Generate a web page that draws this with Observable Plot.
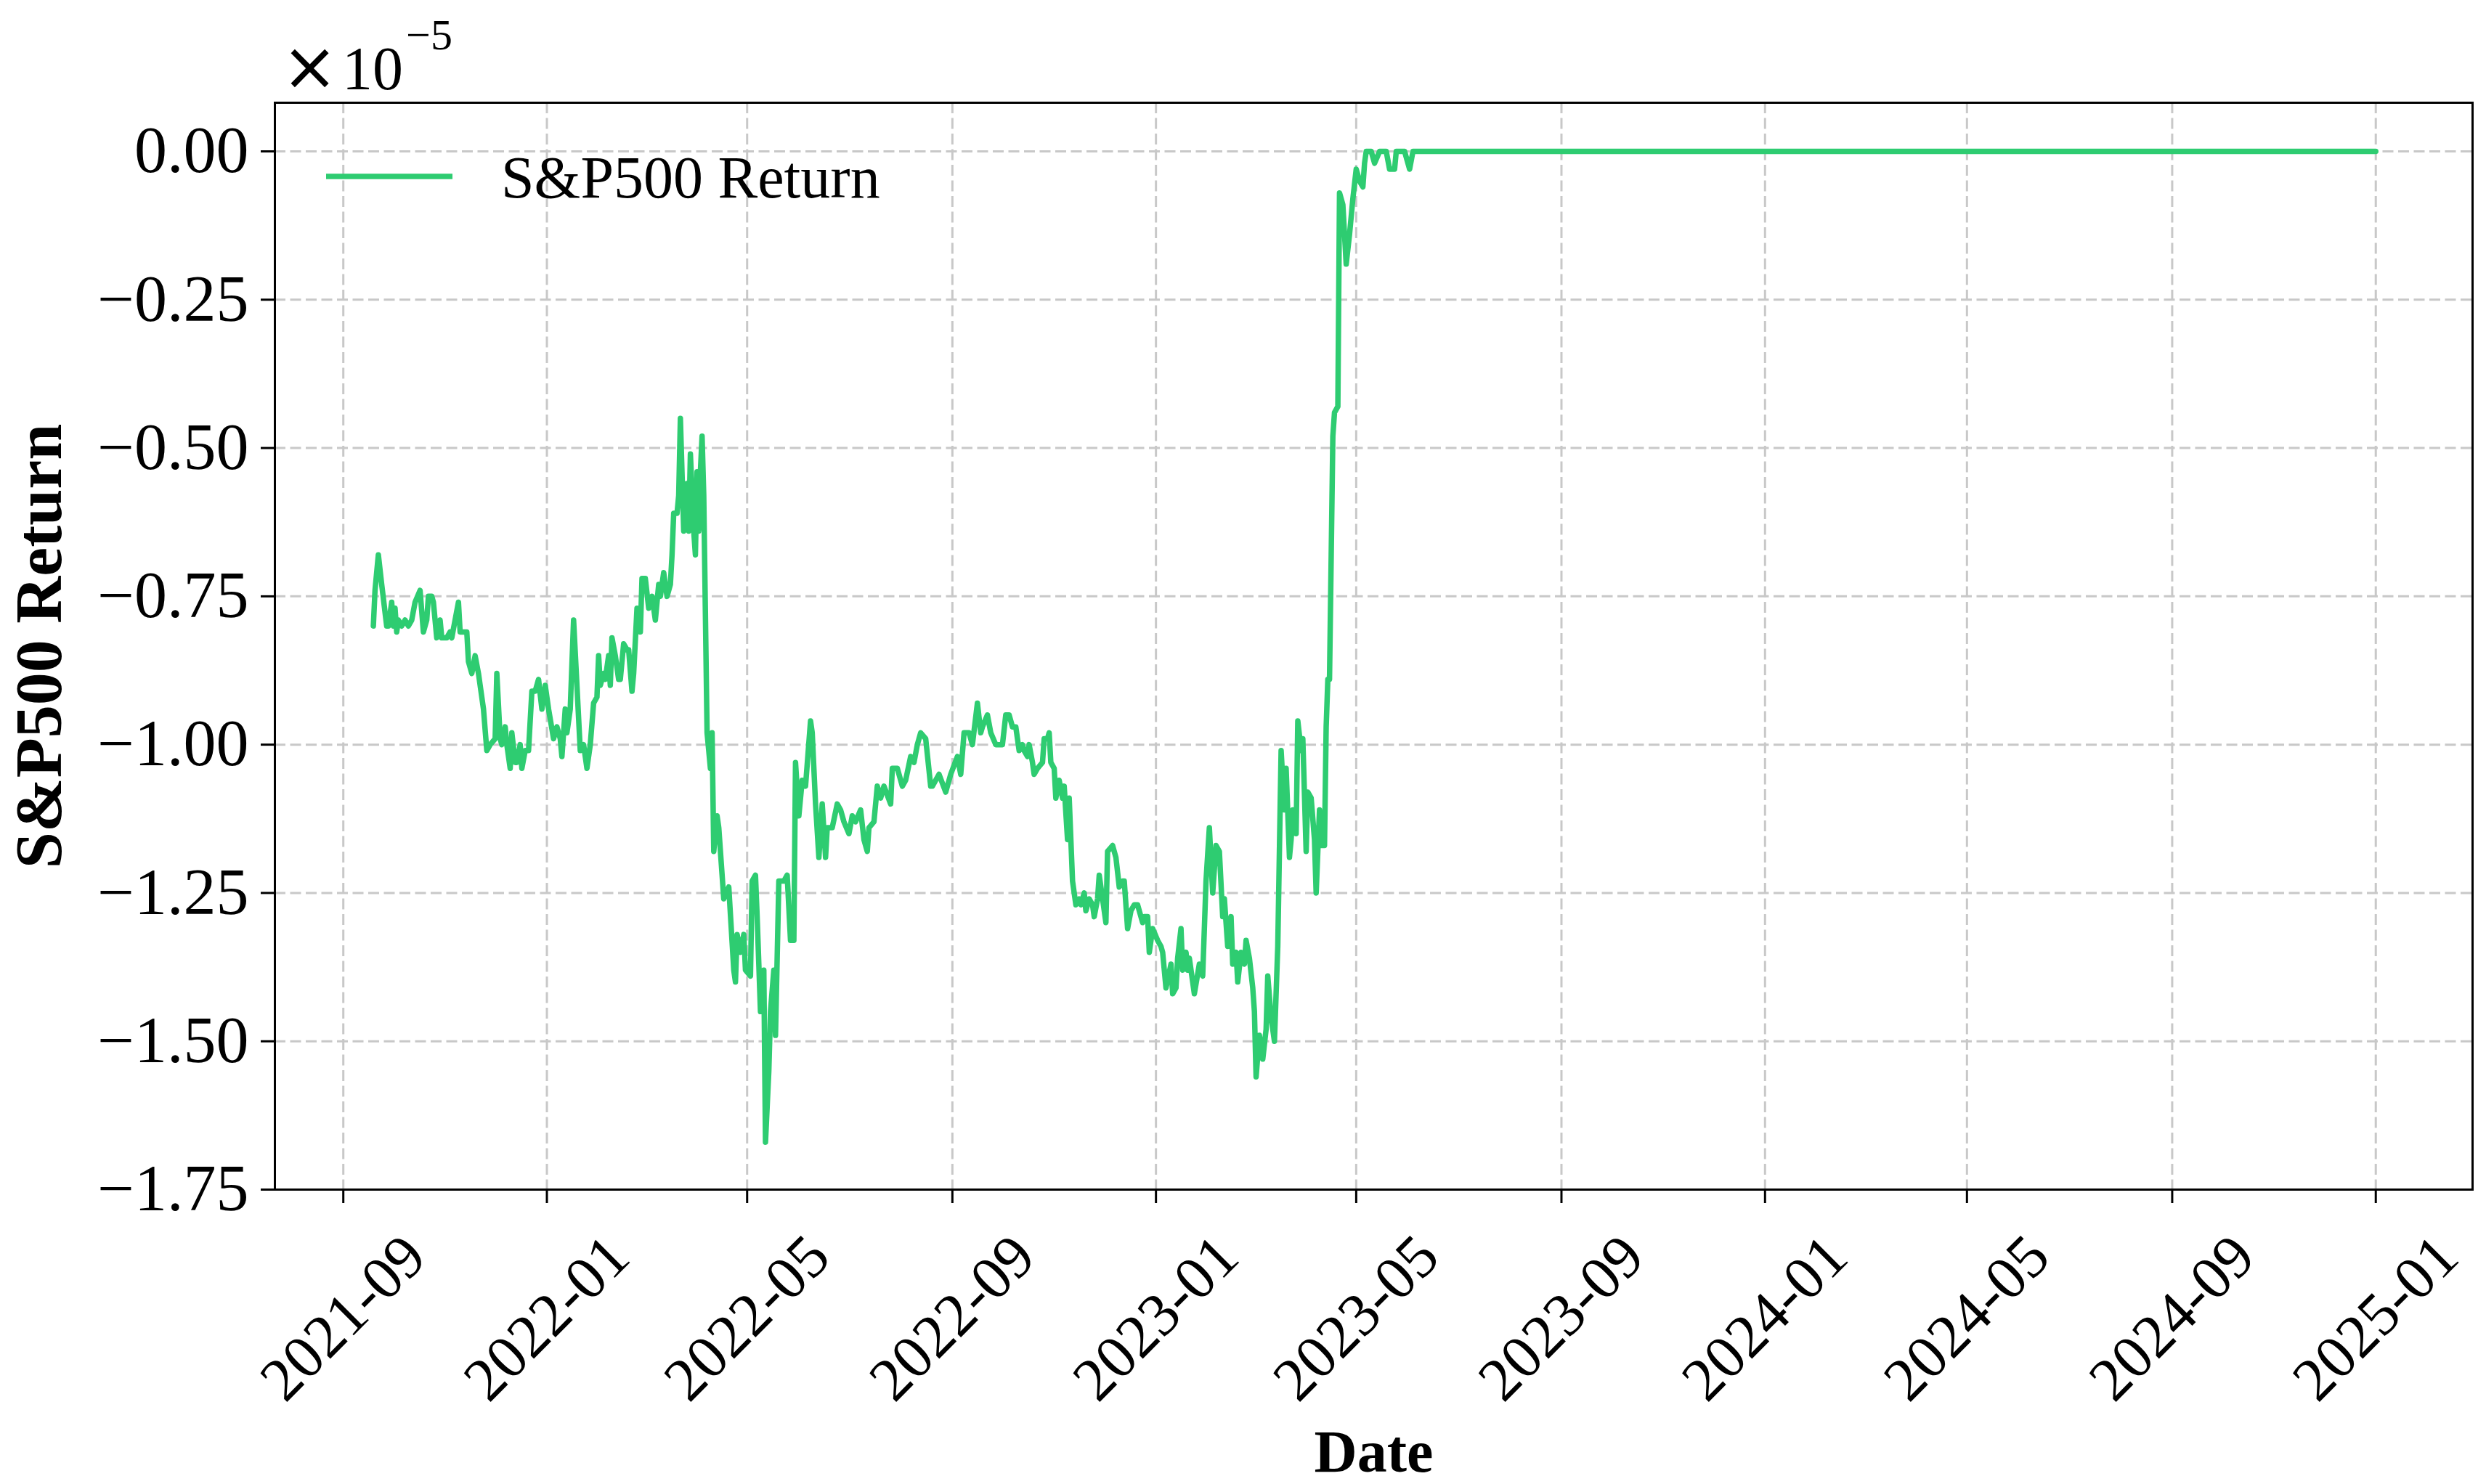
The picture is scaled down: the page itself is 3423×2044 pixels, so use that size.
<!DOCTYPE html>
<html>
<head>
<meta charset="utf-8">
<script src="https://cdn.jsdelivr.net/npm/d3@7"></script>
<script src="https://cdn.jsdelivr.net/npm/@observablehq/plot@0.6"></script>
<style>html,body{margin:0;padding:0;background:#fff;}</style>
</head>
<body>
<div id="chart"></div>
<script>
// ---------------- data (values in units of 1e-5) ----------------
const seriesName = "S&P500 Return";
const dates = [
  "2021-09-19","2021-09-20","2021-09-22","2021-09-24","2021-09-27","2021-09-28","2021-09-30","2021-10-01","2021-10-02","2021-10-03",
  "2021-10-04","2021-10-06","2021-10-08","2021-10-10","2021-10-12","2021-10-14","2021-10-17","2021-10-19","2021-10-21","2021-10-22",
  "2021-10-24","2021-10-25","2021-10-27","2021-10-29","2021-10-30","2021-11-02","2021-11-04","2021-11-05","2021-11-07","2021-11-09",
  "2021-11-10","2021-11-12","2021-11-14","2021-11-15","2021-11-17","2021-11-19","2021-11-21","2021-11-23","2021-11-24","2021-11-26",
  "2021-11-28","2021-12-01","2021-12-02","2021-12-04","2021-12-05","2021-12-07","2021-12-08","2021-12-10","2021-12-11","2021-12-13",
  "2021-12-14","2021-12-16","2021-12-17","2021-12-19","2021-12-21","2021-12-23","2021-12-25","2021-12-27","2021-12-29","2021-12-31",
  "2022-01-02","2022-01-05","2022-01-07","2022-01-09","2022-01-10","2022-01-12","2022-01-13","2022-01-15","2022-01-17","2022-01-19",
  "2022-01-21","2022-01-23","2022-01-25","2022-01-27","2022-01-29","2022-01-31","2022-02-01","2022-02-02","2022-02-04","2022-02-05",
  "2022-02-07","2022-02-08","2022-02-09","2022-02-11","2022-02-13","2022-02-14","2022-02-16","2022-02-18","2022-02-19","2022-02-21",
  "2022-02-22","2022-02-24","2022-02-26","2022-02-27","2022-03-01","2022-03-03","2022-03-05","2022-03-07","2022-03-09","2022-03-10",
  "2022-03-12","2022-03-14","2022-03-16","2022-03-17","2022-03-18","2022-03-20","2022-03-21","2022-03-22","2022-03-24","2022-03-26",
  "2022-03-27","2022-03-28","2022-03-30","2022-03-31","2022-04-01","2022-04-02","2022-04-03","2022-04-04","2022-04-05","2022-04-07",
  "2022-04-09","2022-04-10","2022-04-11","2022-04-13","2022-04-14","2022-04-17","2022-04-20","2022-04-23","2022-04-24","2022-04-25",
  "2022-04-27","2022-04-29","2022-04-30","2022-05-03","2022-05-04","2022-05-06","2022-05-07","2022-05-09","2022-05-11","2022-05-12",
  "2022-05-14","2022-05-15","2022-05-17","2022-05-18","2022-05-20","2022-05-23","2022-05-25","2022-05-27","2022-05-29","2022-05-30",
  "2022-06-01","2022-06-03","2022-06-05","2022-06-08","2022-06-09","2022-06-11","2022-06-13","2022-06-15","2022-06-17","2022-06-18",
  "2022-06-21","2022-06-24","2022-06-26","2022-06-28","2022-07-01","2022-07-03","2022-07-05","2022-07-08","2022-07-10","2022-07-12",
  "2022-07-13","2022-07-16","2022-07-18","2022-07-20","2022-07-22","2022-07-26","2022-07-27","2022-07-30","2022-08-02","2022-08-04",
  "2022-08-07","2022-08-09","2022-08-11","2022-08-13","2022-08-16","2022-08-19","2022-08-20","2022-08-24","2022-08-28","2022-08-31",
  "2022-09-04","2022-09-06","2022-09-08","2022-09-11","2022-09-13","2022-09-16","2022-09-18","2022-09-19","2022-09-22","2022-09-24",
  "2022-09-27","2022-10-01","2022-10-03","2022-10-05","2022-10-07","2022-10-09","2022-10-11","2022-10-13","2022-10-14","2022-10-16",
  "2022-10-17","2022-10-19","2022-10-20","2022-10-22","2022-10-25","2022-10-26","2022-10-28","2022-10-29","2022-10-30","2022-11-01",
  "2022-11-02","2022-11-04","2022-11-06","2022-11-07","2022-11-09","2022-11-10","2022-11-11","2022-11-12","2022-11-14","2022-11-16",
  "2022-11-17","2022-11-19","2022-11-20","2022-11-22","2022-11-24","2022-11-25","2022-11-27","2022-11-28","2022-11-30","2022-12-02",
  "2022-12-03","2022-12-06","2022-12-08","2022-12-10","2022-12-12","2022-12-13","2022-12-15","2022-12-17","2022-12-19","2022-12-21",
  "2022-12-24","2022-12-25","2022-12-27","2022-12-28","2022-12-30","2023-01-02","2023-01-04","2023-01-05","2023-01-07","2023-01-10",
  "2023-01-11","2023-01-13","2023-01-14","2023-01-16","2023-01-17","2023-01-19","2023-01-20","2023-01-21","2023-01-24","2023-01-27",
  "2023-01-29","2023-01-31","2023-02-02","2023-02-04","2023-02-06","2023-02-08","2023-02-10","2023-02-11","2023-02-13","2023-02-15",
  "2023-02-16","2023-02-18","2023-02-19","2023-02-21","2023-02-23","2023-02-24","2023-02-26","2023-02-28","2023-03-01","2023-03-02",
  "2023-03-04","2023-03-06","2023-03-08","2023-03-09","2023-03-11","2023-03-13","2023-03-15","2023-03-17","2023-03-19","2023-03-20",
  "2023-03-22","2023-03-23","2023-03-24","2023-03-26","2023-03-27","2023-03-29","2023-03-30","2023-04-01","2023-04-02","2023-04-04",
  "2023-04-06","2023-04-07","2023-04-09","2023-04-10","2023-04-12","2023-04-13","2023-04-14","2023-04-15","2023-04-17","2023-04-18",
  "2023-04-20","2023-04-21","2023-04-22","2023-04-23","2023-04-25","2023-04-27","2023-04-29","2023-05-01","2023-05-03","2023-05-05",
  "2023-05-06","2023-05-07","2023-05-10","2023-05-12","2023-05-15","2023-05-19","2023-05-21","2023-05-24","2023-05-25","2023-05-30",
  "2023-06-02","2023-06-04","2025-01-01"
];
const values = [
  -0.80,-0.74,-0.68,-0.73,-0.80,-0.80,-0.76,-0.80,-0.77,-0.81,
  -0.79,-0.80,-0.79,-0.80,-0.79,-0.76,-0.74,-0.81,-0.79,-0.75,
  -0.75,-0.76,-0.82,-0.79,-0.82,-0.82,-0.81,-0.82,-0.79,-0.76,
  -0.81,-0.81,-0.81,-0.86,-0.88,-0.85,-0.88,-0.92,-0.94,-1.01,
  -1.00,-0.99,-0.88,-0.99,-1.00,-0.97,-1.00,-1.04,-0.98,-1.03,
  -1.03,-1.00,-1.04,-1.01,-1.01,-0.91,-0.91,-0.89,-0.94,-0.90,
  -0.94,-0.99,-0.97,-0.99,-1.02,-0.94,-0.98,-0.94,-0.79,-0.90,
  -1.01,-1.00,-1.04,-1.00,-0.93,-0.92,-0.85,-0.90,-0.88,-0.89,
  -0.85,-0.90,-0.82,-0.85,-0.89,-0.89,-0.83,-0.84,-0.84,-0.91,
  -0.88,-0.77,-0.81,-0.72,-0.72,-0.77,-0.75,-0.79,-0.73,-0.75,
  -0.71,-0.75,-0.73,-0.68,-0.61,-0.61,-0.58,-0.45,-0.64,-0.56,
  -0.64,-0.51,-0.64,-0.68,-0.54,-0.64,-0.54,-0.48,-0.58,-0.98,
  -1.04,-0.98,-1.18,-1.12,-1.14,-1.26,-1.24,-1.38,-1.40,-1.32,
  -1.35,-1.32,-1.38,-1.39,-1.23,-1.22,-1.29,-1.45,-1.38,-1.67,
  -1.55,-1.45,-1.38,-1.49,-1.23,-1.23,-1.22,-1.33,-1.33,-1.03,
  -1.12,-1.06,-1.07,-0.96,-0.98,-1.10,-1.19,-1.10,-1.19,-1.14,
  -1.14,-1.10,-1.11,-1.13,-1.15,-1.12,-1.13,-1.11,-1.16,-1.18,
  -1.14,-1.13,-1.07,-1.09,-1.07,-1.10,-1.04,-1.04,-1.07,-1.06,
  -1.02,-1.03,-1.00,-0.98,-0.99,-1.07,-1.07,-1.05,-1.08,-1.05,
  -1.02,-1.05,-0.98,-0.98,-1.00,-0.93,-0.98,-0.97,-0.95,-0.98,
  -1.00,-1.00,-0.95,-0.95,-0.97,-0.97,-1.01,-1.00,-1.01,-1.02,
  -1.00,-1.03,-1.05,-1.04,-1.03,-0.99,-0.99,-0.98,-1.03,-1.04,
  -1.09,-1.06,-1.09,-1.07,-1.16,-1.09,-1.16,-1.23,-1.27,-1.26,
  -1.27,-1.25,-1.28,-1.26,-1.27,-1.29,-1.26,-1.22,-1.26,-1.30,
  -1.18,-1.17,-1.19,-1.24,-1.23,-1.23,-1.31,-1.28,-1.27,-1.27,
  -1.30,-1.29,-1.29,-1.35,-1.31,-1.33,-1.34,-1.35,-1.41,-1.37,
  -1.42,-1.41,-1.36,-1.31,-1.38,-1.35,-1.38,-1.36,-1.42,-1.37,
  -1.39,-1.23,-1.14,-1.25,-1.17,-1.18,-1.29,-1.26,-1.34,-1.29,
  -1.37,-1.35,-1.40,-1.35,-1.37,-1.33,-1.36,-1.41,-1.45,-1.56,
  -1.49,-1.53,-1.48,-1.39,-1.46,-1.50,-1.34,-1.01,-1.11,-1.04,
  -1.19,-1.16,-1.11,-1.15,-0.96,-1.01,-0.99,-1.18,-1.08,-1.09,
  -1.16,-1.25,-1.11,-1.17,-1.17,-0.97,-0.89,-0.89,-0.48,-0.44,
  -0.43,-0.07,-0.08,-0.09,-0.19,-0.14,-0.08,-0.03,-0.05,-0.06,
  -0.02, 0.00, 0.00,-0.02, 0.00, 0.00,-0.03,-0.03, 0.00, 0.00,
  -0.03, 0.00, 0.00
];
const xTicks = ["2021-09-01","2022-01-01","2022-05-01","2022-09-01","2023-01-01","2023-05-01","2023-09-01","2024-01-01","2024-05-01","2024-09-01","2025-01-01"];
const xTickLabels = ["2021-09","2022-01","2022-05","2022-09","2023-01","2023-05","2023-09","2024-01","2024-05","2024-09","2025-01"];
const yTicks = [0, -0.25, -0.5, -0.75, -1, -1.25, -1.5, -1.75];
const yTickLabels = ["0.00","\u22120.25","\u22120.50","\u22120.75","\u22121.00","\u22121.25","\u22121.50","\u22121.75"];
const xLabel = "Date";
const yLabel = "S&P500 Return";
const scaleBase = "\u00d7";
const scaleTen = "10";
const scaleExp = "\u22125";
const xDomain = ["2021-07-22", "2025-02-28"];
const yDomain = [-1.75, 0.082];

// ---------------- chart ----------------
const data = dates.map((d, i) => ({date: new Date(d), value: values[i]}));
const xt = xTicks.map(d => new Date(d));
const green = "#2ecc71";
const W = 3423, H = 2044;
const mL = 378, mR = 19, mT = 141, mB = 406;
const gridStyle = {stroke: "#c8c8c8", strokeOpacity: 1, strokeWidth: 3, strokeDasharray: "15,6.5"};

const legendMark = (index, scales, vals, dims) => {
  const g = d3.create("svg:g").attr("text-anchor", "start");
  const x0 = dims.marginLeft, y0 = dims.marginTop;
  g.append("line")
    .attr("x1", x0 + 71).attr("x2", x0 + 245)
    .attr("y1", y0 + 102).attr("y2", y0 + 102)
    .attr("stroke", green).attr("stroke-width", 7.5);
  g.append("text")
    .attr("x", x0 + 312).attr("y", y0 + 105).attr("dy", "0.32em")
    .attr("font-size", 82).attr("fill", "black")
    .text(seriesName);
  return g.node();
};

const offsetMark = (index, scales, vals, dims) => {
  const g = d3.create("svg:g").attr("text-anchor", "start");
  const t = g.append("text")
    .attr("x", dims.marginLeft + 10).attr("y", dims.marginTop - 18)
    .attr("font-size", 84).attr("fill", "black");
  t.append("tspan").attr("font-family", "'DejaVu Sans', sans-serif").attr("font-size", 92).text(scaleBase);
  t.append("tspan").attr("dx", 6).text(scaleTen);
  t.append("tspan").attr("dx", 4).attr("dy", -55).attr("font-size", 60).text(scaleExp);
  return g.node();
};

const chart = Plot.plot({
  width: W, height: H,
  marginLeft: mL, marginRight: mR, marginTop: mT, marginBottom: mB,
  style: {fontFamily: "'Liberation Serif','Times New Roman',serif", background: "white", color: "black", overflow: "visible"},
  x: {type: "utc", domain: xDomain.map(d => new Date(d))},
  y: {domain: yDomain},
  marks: [
    Plot.gridX(xt, gridStyle),
    Plot.gridY(yTicks, gridStyle),
    Plot.line(data, {x: "date", y: "value", stroke: green, strokeWidth: 7.5}),
    Plot.frame({stroke: "black", strokeWidth: 3}),
    Plot.axisY(yTicks, {anchor: "left", tickSize: 19, tickPadding: 17, strokeWidth: 3, fontSize: 90,
      tickFormat: d => yTickLabels[yTicks.indexOf(d)], label: null}),
    Plot.axisX(xt, {anchor: "bottom", tickSize: 19, strokeWidth: 3, tickFormat: () => "", label: null}),
    Plot.text(xt, {x: d => d, text: d => xTickLabels[xt.indexOf(d)], frameAnchor: "bottom", dy: 177,
      rotate: -45, textAnchor: "middle", lineAnchor: "middle", fontSize: 84}),
    Plot.text([xLabel], {text: d => d, frameAnchor: "bottom", dy: 362, fontSize: 82, fontWeight: "bold",
      textAnchor: "middle", lineAnchor: "middle"}),
    Plot.text([yLabel], {text: d => d, frameAnchor: "left", dx: -323, rotate: -90, fontSize: 90, fontWeight: "bold",
      textAnchor: "middle", lineAnchor: "middle"}),
    legendMark,
    offsetMark
  ]
});
document.getElementById("chart").appendChild(chart);
</script>
</body>
</html>
